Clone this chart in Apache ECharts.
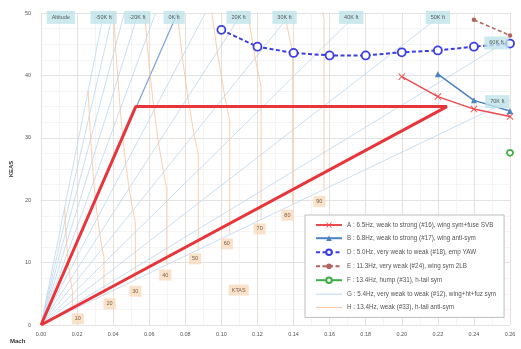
<!DOCTYPE html>
<html>
<head>
<meta charset="utf-8">
<script src="https://cdn.jsdelivr.net/npm/echarts@6/dist/echarts.min.js"></script>
<style>
  html, body { margin: 0; padding: 0; background: #fff; }
  #chart { width: 521px; height: 349px; }
</style>
</head>
<body>
<div id="chart"></div>
<script>
// measured series (Mach, KEAS)
const aMach = [0.20, 0.22, 0.24, 0.26]
const aKeas = [39.8, 36.6, 34.6, 33.4]
const bMach = [0.22, 0.24, 0.26]
const bKeas = [40.2, 36.0, 34.3]
const dMach = [0.10, 0.12, 0.14, 0.16, 0.18, 0.20, 0.22, 0.24, 0.26]
const dKeas = [47.3, 44.6, 43.6, 43.2, 43.2, 43.7, 44.0, 44.6, 45.1]
const eMach = [0.24, 0.26]
const eKeas = [48.9, 46.4]
const fMach = [0.26]
const fKeas = [27.6]

// flight envelope (thick red triangle)
const envMach = [0, 0.0525, 0.225, 0]
const envKeas = [0, 35, 35, 0]

// constant altitude lines, from origin to where they leave the plot
const altEndMach = [0.0348, 0.0399, 0.0462, 0.0539, 0.0635, 0.0756, 0.0911, 0.1115, 0.1387, 0.1757, 0.2234, 0.26, 0.26]
const altEndKeas = [50, 50, 50, 50, 50, 50, 50, 50, 50, 50, 50, 45.8, 36.0]
const seaLevelIndex = 5

const altLabelText = ['Altitude', '-50K ft', '-20K ft', '0K ft', '20K ft', '30K ft', '40K ft', '50K ft', '60K ft', '70K ft']
const altLabelMach = [0.011, 0.0347, 0.0534, 0.0738, 0.1096, 0.135, 0.172, 0.22, 0.2525, 0.2530]
const altLabelKeas = [49.3, 49.3, 49.3, 49.3, 49.3, 49.3, 49.3, 49.3, 45.2, 35.8]

// constant KTAS curves (points at -50K,-30K,-10K,0,10K,20K,30K,36K,70K ft)
const ktasMach = [
  [0.0130, 0.0138, 0.0146, 0.0151, 0.0157, 0.0163, 0.0170, 0.0174, 0.0174],
  [0.0261, 0.0275, 0.0292, 0.0302, 0.0313, 0.0326, 0.0339, 0.0349, 0.0349],
  [0.0391, 0.0413, 0.0439, 0.0454, 0.0470, 0.0488, 0.0509, 0.0523, 0.0523],
  [0.0522, 0.0551, 0.0585, 0.0605, 0.0627, 0.0651, 0.0679, 0.0697, 0.0697],
  [0.0652, 0.0688, 0.0731, 0.0756, 0.0783, 0.0814, 0.0848, 0.0872, 0.0872],
  [0.0782, 0.0826, 0.0877, 0.0907, 0.0940, 0.0977, 0.1018, 0.1046, 0.1046],
  [0.0913, 0.0964, 0.1024, 0.1058, 0.1096, 0.1140, 0.1187, 0.1220, 0.1220],
  [0.1043, 0.1101, 0.1170, 0.1209, 0.1253, 0.1302, 0.1357, 0.1395, 0.1395],
  [0.1174, 0.1239, 0.1316, 0.1361, 0.1410, 0.1465, 0.1527, 0.1569, 0.1569]
]
const ktasKeas = [
  [18.8, 14.9, 11.5, 10.0, 8.6, 7.3, 6.1, 5.5, 2.4],
  [37.5, 29.8, 23.0, 20.0, 17.2, 14.6, 12.2, 10.9, 4.8],
  [56.3, 44.7, 34.6, 30.0, 25.8, 21.9, 18.4, 16.4, 7.2],
  [75.0, 59.6, 46.1, 40.0, 34.4, 29.2, 24.5, 21.8, 9.7],
  [93.8, 74.5, 57.6, 50.0, 43.0, 36.5, 30.6, 27.3, 12.1],
  [112.5, 89.4, 69.1, 60.0, 51.6, 43.8, 36.7, 32.7, 14.5],
  [131.3, 104.3, 80.6, 70.0, 60.2, 51.1, 42.8, 38.2, 16.9],
  [150.0, 119.2, 92.2, 80.0, 68.7, 58.4, 48.9, 43.6, 19.3],
  [168.8, 134.1, 103.7, 90.0, 77.3, 65.7, 55.1, 49.1, 21.7]
]
const ktasLabelText = ['10', '20', '30', '40', '50', '60', '70', '80', '90', 'KTAS']
const ktasLabelMach = [0.0204, 0.038, 0.0523, 0.0689, 0.0854, 0.103, 0.1212, 0.1366, 0.1543, 0.1096]
const ktasLabelKeas = [1.0, 3.4, 5.4, 8.0, 10.6, 13.0, 15.4, 17.6, 19.8, 5.6]

const names = {
  A: 'A : 6.5Hz, weak to strong (#16), wing sym+fuse SVB',
  B: 'B : 6.8Hz, weak to strong (#17), wing anti-sym',
  D: 'D : 5.0Hz, very weak to weak (#18), emp YAW',
  E: 'E : 11.3Hz, very weak (#24), wing sym 2LB',
  F: 'F : 13.4Hz, hump (#31), h-tail sym',
  G: 'G : 5.4Hz, very weak to weak (#12), wing+ht+fuz sym',
  H: 'H : 13.4Hz, weak (#33), h-tail anti-sym'
}

const font = 'Liberation Sans'
const xMark = 'path://M1,0 L5,4 L9,0 L10,1 L6,5 L10,9 L9,10 L5,6 L1,10 L0,9 L4,5 L0,1Z'
const thinIcon = 'path://M0,0 L26,0 L26,1 L0,1Z'
const altColor = '#bcd6ee'
const ktasColor = '#f6c39c'
const pairs = (xs, ys) => xs.map((x, i) => [x, ys[i]])

const altSeries = altEndMach.map((m, i) => ({
  name: names.G,
  type: 'line',
  data: [[0, 0], [m, altEndKeas[i]]],
  symbol: 'none',
  silent: true,
  z: 1,
  itemStyle: { color: altColor },
  lineStyle: { color: i === seaLevelIndex ? '#7da2d6' : altColor, width: i === seaLevelIndex ? 1.2 : 0.8 }
}))
// sea level line drawn last so legend picks up the light style
altSeries.push(altSeries.splice(seaLevelIndex, 1)[0])

const ktasSeries = ktasMach.map((ms, i) => ({
  name: names.H,
  type: 'line',
  data: pairs(ms, ktasKeas[i]),
  symbol: 'none',
  silent: true,
  z: 1,
  itemStyle: { color: ktasColor },
  lineStyle: { color: ktasColor, width: 0.8 }
}))

const labelSeries = (texts, xs, ys, bg, color, pad) => ({
  type: 'scatter',
  data: texts.map((t, i) => [xs[i], ys[i], t]),
  symbolSize: 1,
  itemStyle: { color: 'transparent' },
  silent: true,
  z: 5,
  label: {
    show: true,
    position: 'inside',
    formatter: p => p.value[2],
    fontFamily: font,
    fontSize: 5.5,
    color,
    backgroundColor: bg,
    padding: pad
  }
})

const chart = echarts.init(document.getElementById('chart'))
chart.setOption({
  animation: false,
  textStyle: { fontFamily: font },
  grid: { left: 38, right: 11, top: 13, bottom: 24 },
  graphic: [{
    type: 'text', left: 10, top: 338,
    style: { text: 'Mach', fontSize: 6, fontWeight: 'bold', fill: '#333', fontFamily: font }
  }],
  xAxis: {
    type: 'value', min: 0, max: 0.26, interval: 0.02,
    axisLine: { show: false }, axisTick: { show: false },
    axisLabel: { fontSize: 5.5, color: '#555', margin: 6, formatter: v => v.toFixed(2) },
    splitLine: { lineStyle: { color: '#e3d8cf', width: 0.8 } },
    minorTick: { show: false, splitNumber: 2 },
    minorSplitLine: { show: true, lineStyle: { color: '#efefef', width: 0.6 } }
  },
  yAxis: {
    type: 'value', min: 0, max: 50, interval: 10,
    name: 'KEAS', nameLocation: 'middle', nameGap: 22, nameRotate: 90,
    nameTextStyle: { fontSize: 6, fontWeight: 'bold', color: '#333' },
    axisLine: { show: false }, axisTick: { show: false },
    axisLabel: { fontSize: 5.5, color: '#555', margin: 10 },
    splitLine: { lineStyle: { color: '#dcdcdc', width: 0.8 } },
    minorTick: { show: false, splitNumber: 4 },
    minorSplitLine: { show: true, lineStyle: { color: '#efefef', width: 0.6 } }
  },
  legend: {
    orient: 'vertical',
    left: 305, top: 215,
    width: 205,
    padding: [7, 8, 7, 10],
    itemGap: 7.2,
    itemWidth: 26, itemHeight: 7,
    backgroundColor: '#fff',
    borderColor: '#bdbdbd', borderWidth: 1,
    textStyle: { fontSize: 6.3, color: '#555', fontFamily: font },
    data: [names.A, names.B, names.D, names.E, names.F,
      { name: names.G, icon: thinIcon }, { name: names.H, icon: thinIcon }]
  },
  series: [
    ...altSeries,
    ...ktasSeries,
    {
      type: 'line', data: pairs(envMach, envKeas), symbol: 'none', silent: true, z: 3,
      lineStyle: { color: '#e8353b', width: 3 }
    },
    {
      name: names.A, type: 'line', data: pairs(aMach, aKeas), z: 4,
      symbol: xMark, symbolSize: 7,
      lineStyle: { color: '#ea4b50', width: 1.5 }, itemStyle: { color: '#ea4b50' }
    },
    {
      name: names.B, type: 'line', data: pairs(bMach, bKeas), z: 4,
      symbol: 'triangle', symbolSize: 6,
      lineStyle: { color: '#4a82c4', width: 1.5 }, itemStyle: { color: '#4a82c4' }
    },
    {
      name: names.D, type: 'line', data: pairs(dMach, dKeas), z: 4,
      symbol: 'circle', symbolSize: 8,
      lineStyle: { color: '#3b3ee6', width: 2, type: [4, 2.5] },
      itemStyle: { color: '#fff', borderColor: '#3b3ee6', borderWidth: 1.8 }
    },
    {
      name: names.E, type: 'line', data: pairs(eMach, eKeas), z: 4,
      symbol: 'circle', symbolSize: 4.5,
      lineStyle: { color: '#b4625e', width: 1.5, type: [4, 2.5] }, itemStyle: { color: '#b4625e' }
    },
    {
      name: names.F, type: 'line', data: pairs(fMach, fKeas), z: 4,
      symbol: 'circle', symbolSize: 6,
      lineStyle: { color: '#3cae46', width: 1.5 },
      itemStyle: { color: '#fff', borderColor: '#3cae46', borderWidth: 1.8 }
    },
    labelSeries(altLabelText, altLabelMach, altLabelKeas, '#bfe3ea', '#333', [3.5, 5]),
    labelSeries(ktasLabelText, ktasLabelMach, ktasLabelKeas, '#f9d9bd', '#5a3a22', [2.5, 3])
  ]
})
</script>
</body>
</html>
